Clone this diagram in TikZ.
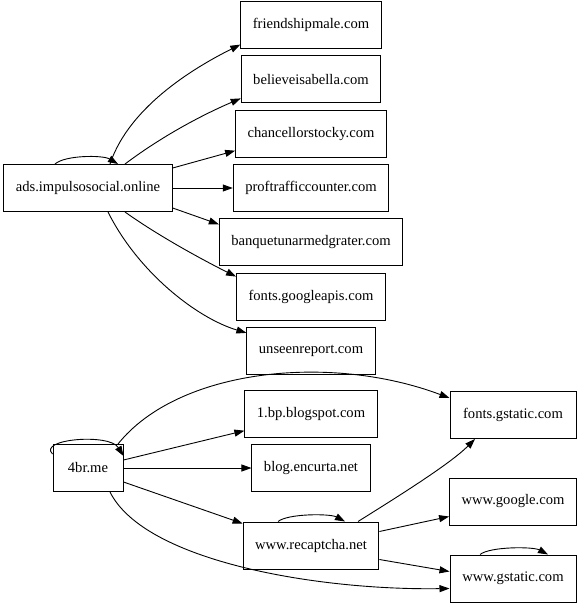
\documentclass[tikz,border=0pt]{standalone}
\usepackage{fontspec}
\setmainfont{Liberation Serif}
\usetikzlibrary{positioning}
\usetikzlibrary{arrows.meta}

\begin{document}
\begin{tikzpicture}[
    x=1pt, y=-1pt,
    box/.style={rectangle, draw, line width=1pt, minimum height=47pt, inner xsep=12pt, font=\fontsize{14.6}{16}\selectfont},
    wide/.style={minimum width=126pt},
    arrow/.style={->, >={Triangle[length=10pt, width=7pt]}, line width=0.9pt}
]
\useasboundingbox (0,0) rectangle (583,609);

% Sources
\node[box] (ads) at (88,188) {ads.impulsosocial.online};
\node[box, minimum width=70pt] (fourbr) at (88,468) {4br.me};

% Targets of ads
\node[box] (proftraffic) at (311,188) {proftrafficcounter.com};
\node[box] (chancellor) [above=6.3pt of proftraffic] {chancellorstocky.com};
\node[box] (believe) [above=6.3pt of chancellor] {believeisabella.com};
\node[box] (friendship) [above=6.3pt of believe] {friendshipmale.com};
\node[box] (banquet) [below=6.3pt of proftraffic] {banquetunarmedgrater.com};
\node[box] (googleapis) [below=6.3pt of banquet] {fonts.googleapis.com};
\node[box] (unseen) [below=6.3pt of googleapis] {unseenreport.com};

% Targets of 4br.me
\node[box] (blogencurta) at (311,468) {blog.encurta.net};
\node[box] (blogspot) [above=6.3pt of blogencurta] {1.bp.blogspot.com};
\node[box] (recaptcha) at (311,545.5) {www.recaptcha.net};
\node[box, wide] (fontsgstatic) at (513,415) {fonts.gstatic.com};
\node[box, wide] (google) at (513,501.5) {www.google.com};
\node[box, wide] (wwwgstatic) at (513,578.5) {www.gstatic.com};

% Edges from ads
\draw[arrow] ([xshift=22pt]ads.north) .. controls +(20,-60) and +(-40,20) .. ([yshift=-19.5pt]friendship.west);
\draw[arrow] ([xshift=37pt]ads.north) .. controls +(40,-30) and +(-35,15) .. ([yshift=-19pt]believe.west);
\draw[arrow] ([yshift=-4pt]ads.north east) -- ([yshift=-17pt]chancellor.west);
\draw[arrow] (ads.east) -- (proftraffic.west);
\draw[arrow] ([yshift=4pt]ads.south east) -- ([yshift=18pt]banquet.west);
\draw[arrow] ([xshift=37pt]ads.south) .. controls +(35,25) and +(-30,-15) .. ([yshift=20pt]googleapis.west);
\draw[arrow] ([xshift=20pt]ads.south) .. controls +(30,60) and +(-50,-15) .. ([yshift=18pt]unseen.west);
\draw[arrow] ([xshift=-33pt]ads.north) .. controls +(10,-9) and +(-15,-9) .. ([xshift=30pt]ads.north);

% Edges from 4br.me
\draw[arrow] ([xshift=30pt]fourbr.north) .. controls +(60,-75) and +(-120,-45) .. ([yshift=17pt]fontsgstatic.west);
\draw[arrow] ([yshift=8pt]fourbr.east) -- ([yshift=-17pt]blogspot.west);
\draw[arrow] (fourbr.east) -- (blogencurta.west);
\draw[arrow] ([yshift=-14pt]fourbr.east) -- ([yshift=-2pt]recaptcha.north west);
\draw[arrow] ([xshift=22pt]fourbr.south) .. controls +(35,70) and +(-130,2) .. ([yshift=-10pt]wwwgstatic.west);
\draw[arrow] ([yshift=-10pt]fourbr.north west) .. controls +(-15,-15) and +(-14,-23) .. ([yshift=-12pt]fourbr.north east);

% Edges from recaptcha
\draw[arrow] ([xshift=47pt]recaptcha.north) .. controls +(40,-25) and +(-25,25) .. ([xshift=-38pt]fontsgstatic.south);
\draw[arrow] ([yshift=14pt]recaptcha.east) -- ([yshift=-15pt]google.west);
\draw[arrow] ([yshift=-14pt]recaptcha.east) -- ([yshift=7pt]wwwgstatic.west);
\draw[arrow] ([xshift=-33pt]recaptcha.north) .. controls +(10,-8) and +(-15,-8) .. ([xshift=34pt]recaptcha.north);
\draw[arrow] ([xshift=-33pt]wwwgstatic.north) .. controls +(10,-8) and +(-15,-8) .. ([xshift=35pt]wwwgstatic.north);

\end{tikzpicture}
\end{document}
